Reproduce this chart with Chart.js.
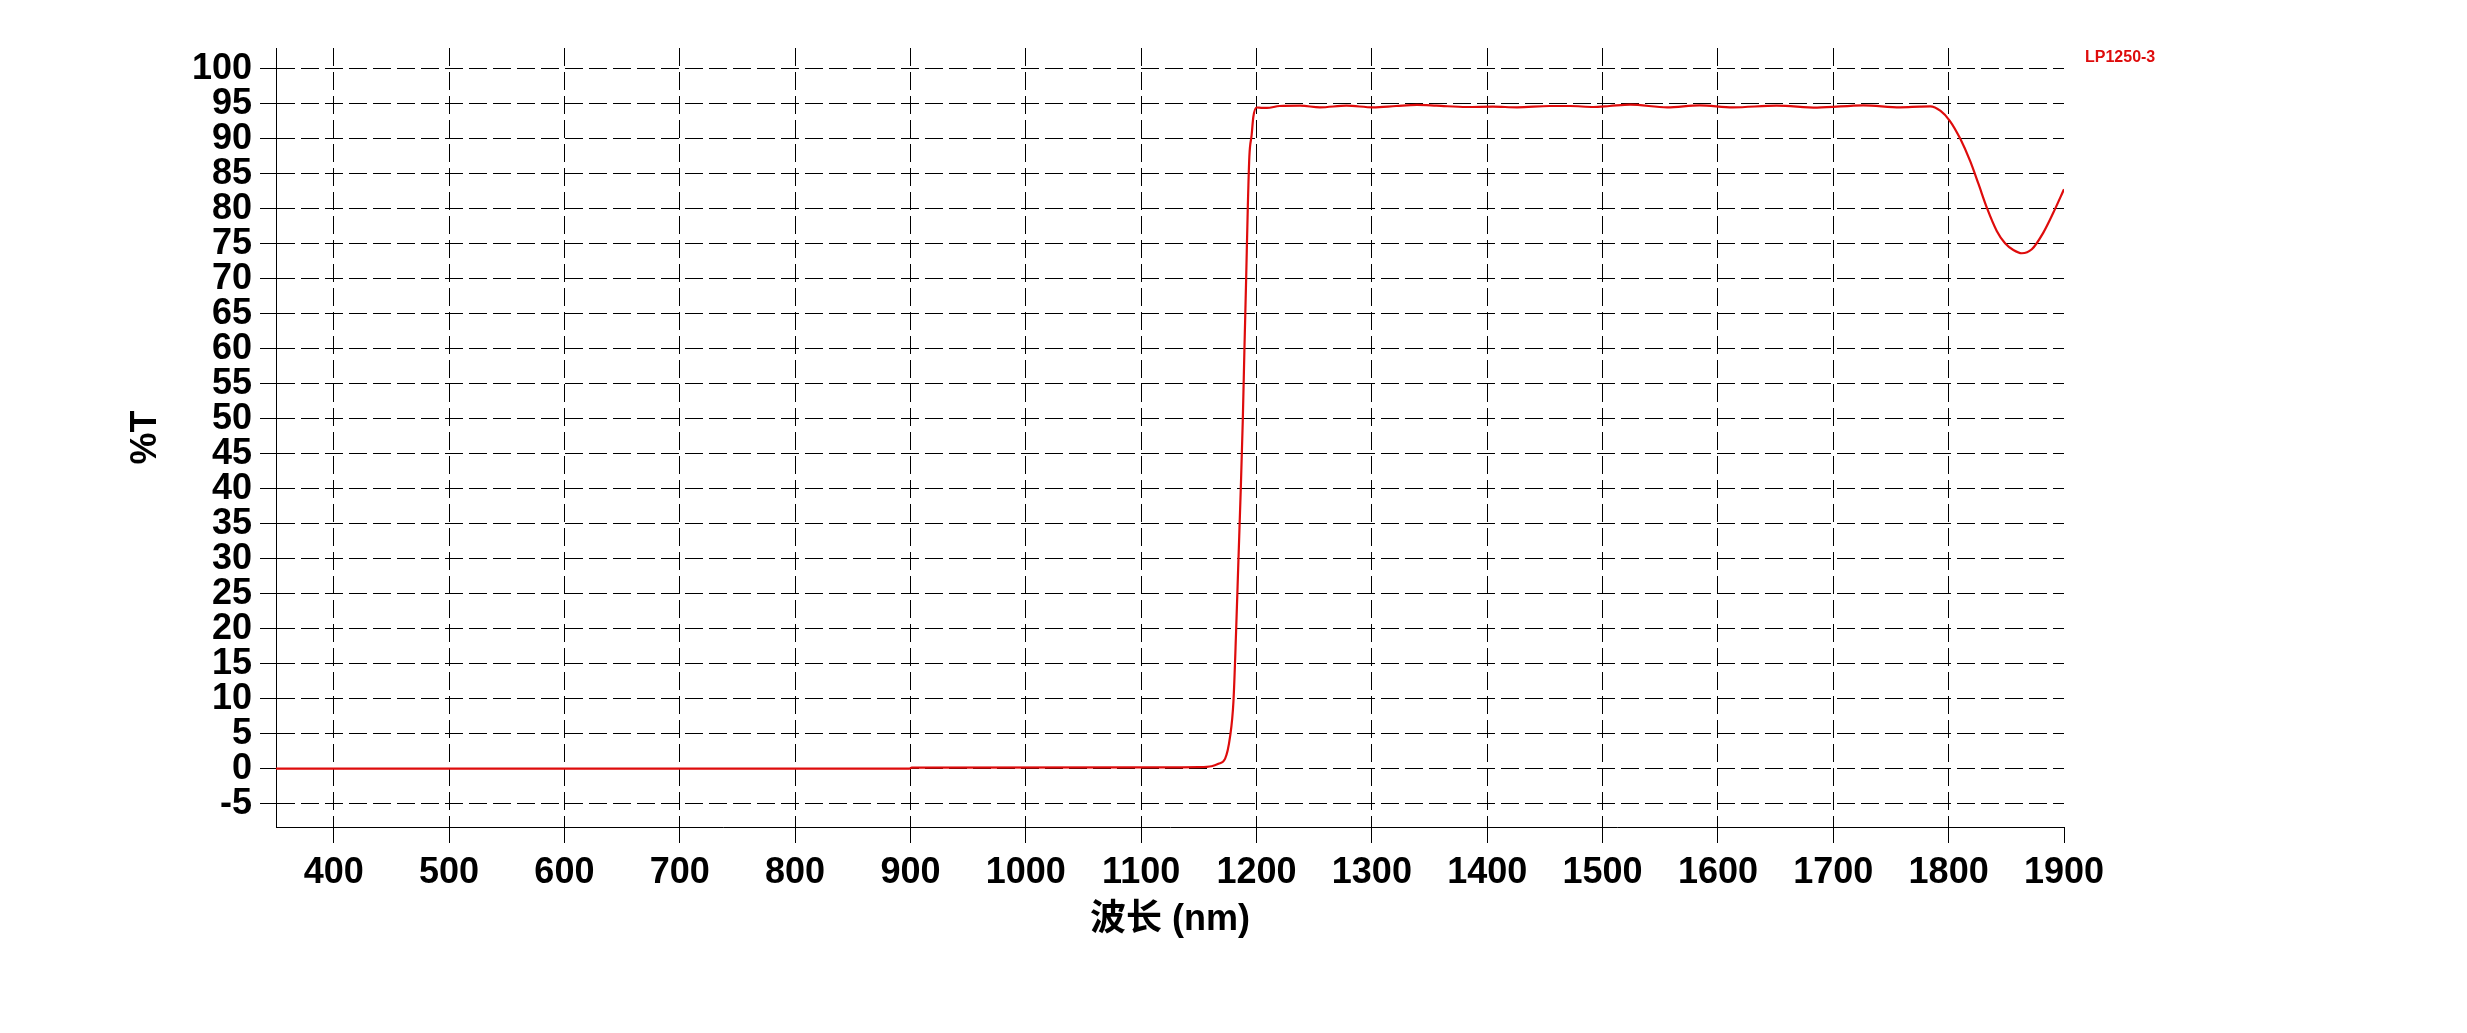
<!DOCTYPE html>
<html>
<head>
<meta charset="utf-8">
<script src="https://cdn.jsdelivr.net/npm/chart.js@4/dist/chart.umd.min.js"></script>
<style>
html,body{margin:0;padding:0;background:#fff;}
#wrap{width:2467px;height:1033px;}
</style>
</head>
<body>
<div id="wrap"><canvas id="c" width="2467" height="1033"></canvas></div>
<script>
// ---- data ----
const wavelengths = [350, 899, 901, 1100, 1150, 1161, 1167, 1172.7, 1177, 1180, 1182.3, 1184.3, 1186.3, 1188.1, 1189.5, 1191, 1192.4, 1193.8, 1195.8, 1197.2, 1200, 1204, 1209, 1220, 1238, 1255, 1278, 1301, 1321, 1339, 1356, 1382, 1405, 1426, 1454, 1472, 1492, 1506, 1524, 1556, 1584, 1613, 1651, 1686, 1726, 1758, 1775, 1784, 1793, 1801, 1810, 1818.6, 1825.8, 1833.1, 1841.7, 1848.9, 1856.1, 1863.4, 1872.1, 1882.1, 1890.8, 1900];
const transmittance = [0, 0.02, 0.15, 0.18, 0.22, 0.35, 0.7, 1.4, 4.5, 9.6, 19.6, 29.7, 39.7, 49.8, 59.8, 69.9, 79.9, 87.5, 90.6, 93.1, 94.5, 94.45, 94.43, 94.71, 94.76, 94.52, 94.76, 94.52, 94.71, 94.86, 94.76, 94.57, 94.62, 94.52, 94.71, 94.71, 94.57, 94.71, 94.9, 94.52, 94.81, 94.52, 94.76, 94.48, 94.81, 94.52, 94.62, 94.65, 94.0, 92.6, 90.05, 86.86, 83.6, 80.19, 76.86, 75.1, 74.14, 73.67, 74.24, 76.62, 79.48, 82.81];
const xTickValues = [400, 500, 600, 700, 800, 900, 1000, 1100, 1200, 1300, 1400, 1500, 1600, 1700, 1800, 1900];
const yTickValues = [-5, 0, 5, 10, 15, 20, 25, 30, 35, 40, 45, 50, 55, 60, 65, 70, 75, 80, 85, 90, 95, 100];
const seriesName = 'LP1250-3';
const xTitle = '波长 (nm)';
const yTitle = '%T';

const RED = 'rgb(222,12,12)';
const FONT = '"Liberation Sans", Arial, "Noto Sans CJK SC", sans-serif';

const points = wavelengths.map((w, i) => ({x: w, y: transmittance[i]}));

const labelPlugin = {
  id: 'seriesLabel',
  afterDraw(chart) {
    const ctx = chart.ctx;
    const a = chart.chartArea;
    ctx.save();
    ctx.fillStyle = RED;
    ctx.font = 'bold 16px ' + FONT;
    ctx.textAlign = 'left';
    ctx.textBaseline = 'alphabetic';
    ctx.fillText(seriesName, a.right + 21, a.top + 14);
    ctx.restore();
  }
};

new Chart(document.getElementById('c'), {
  type: 'line',
  data: {
    datasets: [{
      label: seriesName,
      data: points,
      borderColor: RED,
      borderWidth: 2.2,
      pointRadius: 0,
      fill: false,
      cubicInterpolationMode: 'monotone'
    }]
  },
  options: {
    responsive: false,
    animation: false,
    devicePixelRatio: 1,
    layout: {padding: {left: 0, top: 48, right: 403, bottom: 0}},
    plugins: {legend: {display: false}, tooltip: {enabled: false}},
    scales: {
      x: {
        type: 'linear',
        min: 350,
        max: 1900,
        afterBuildTicks(s) { s.ticks = xTickValues.map(v => ({value: v})); },
        afterFit(s) { s.height = 206; },
        grid: {
          color: c => (c.tick && c.tick.value === 1900) ? 'rgba(0,0,0,0)' : '#000',
          lineWidth: 1,
          tickLength: 16,
          tickColor: '#000',
          tickBorderDash: []
        },
        border: {display: true, color: '#000', width: 1, dash: [18, 6]},
        ticks: {
          color: '#000',
          padding: 8,
          maxRotation: 0,
          autoSkip: false,
          font: {family: FONT, size: 36, weight: 'bold'},
          callback: v => String(v)
        },
        title: {
          display: true,
          text: xTitle,
          color: '#000',
          font: {family: FONT, size: 36, weight: 'bold'},
          padding: {top: 0, bottom: 91}
        }
      },
      y: {
        type: 'linear',
        min: -8.33,
        max: 103,
        afterBuildTicks(s) { s.ticks = yTickValues.map(v => ({value: v})); },
        afterFit(s) { s.width = 276; },
        grid: {
          color: '#000',
          lineWidth: 1,
          tickLength: 16,
          tickColor: '#000',
          tickBorderDash: []
        },
        border: {display: true, color: '#000', width: 1, dash: [18, 6]},
        ticks: {
          color: '#000',
          padding: 8,
          autoSkip: false,
          font: {family: FONT, size: 36, weight: 'bold'},
          callback: v => String(v)
        },
        title: {
          display: true,
          text: yTitle,
          color: '#000',
          font: {family: FONT, size: 36, weight: 'bold'},
          padding: {top: 124, bottom: 0}
        }
      }
    }
  },
  plugins: [labelPlugin]
});
</script>
</body>
</html>
